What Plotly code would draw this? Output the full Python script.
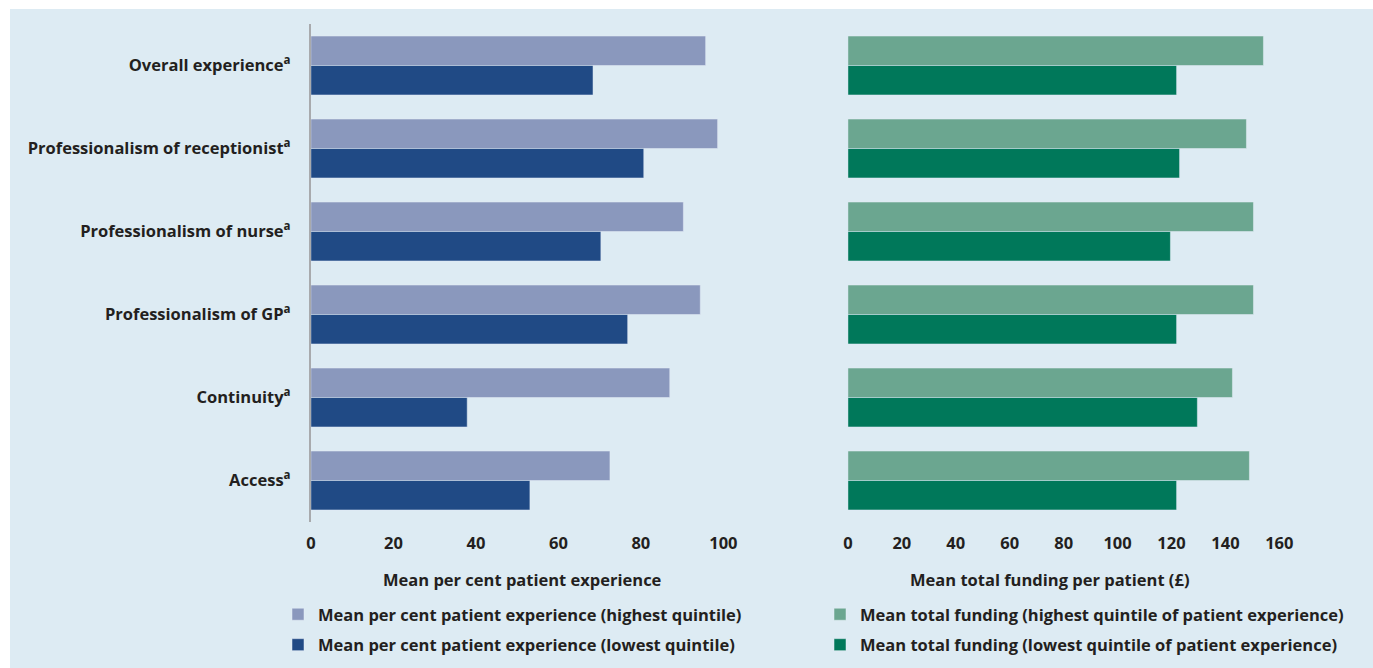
import plotly.graph_objects as go

categories = ["Overall experience", "Professionalism of receptionist", "Professionalism of nurse",
              "Professionalism of GP", "Continuity", "Access"]
exp_high = [95.7, 98.6, 90.3, 94.4, 87.0, 72.5]
exp_low = [68.4, 80.7, 70.3, 76.8, 37.9, 53.1]
fund_high = [154.1, 147.8, 150.4, 150.4, 142.6, 148.9]
fund_low = [121.9, 123.0, 119.6, 121.9, 129.6, 121.9]
left_ticks = [0, 20, 40, 60, 80, 100]
right_ticks = [0, 20, 40, 60, 80, 100, 120, 140, 160]

REF_W = 1373
W, H = 1387, 668
BG = "#ddebf3"
TXT = "#231f20"
FONT = "Open Sans"
FS = 16.5

ylabels = [f"<b>{c}<sup>a</sup></b>" for c in categories]

fig = go.Figure()
fig.add_trace(go.Bar(y=categories, x=exp_high, orientation="h", marker_color="#8a98bd",
                     name="<b>Mean per cent patient experience (highest quintile)</b>",
                     xaxis="x", yaxis="y", legend="legend", legendgroup="a"))
fig.add_trace(go.Bar(y=categories, x=exp_low, orientation="h", marker_color="#204a85",
                     name="<b>Mean per cent patient experience (lowest quintile)</b>",
                     xaxis="x", yaxis="y", legend="legend", legendgroup="b"))
fig.add_trace(go.Bar(y=categories, x=fund_high, orientation="h", marker_color="#6ba690",
                     name="<b>Mean total funding (highest quintile of patient experience)</b>",
                     xaxis="x2", yaxis="y2", legend="legend2", legendgroup="c"))
fig.add_trace(go.Bar(y=categories, x=fund_low, orientation="h", marker_color="#00785a",
                     name="<b>Mean total funding (lowest quintile of patient experience)</b>",
                     xaxis="x2", yaxis="y2", legend="legend2", legendgroup="d"))

ydom = [1 - 522 / H, 1 - 24 / H]
fig.update_layout(
    width=W, height=H, autosize=False,
    margin=dict(l=0, r=0, t=0, b=0),
    paper_bgcolor="white",
    plot_bgcolor="rgba(0,0,0,0)",
    barmode="group", bargap=0.29, bargroupgap=0,
    font=dict(family=FONT, size=FS, color=TXT),
    xaxis=dict(domain=[307 / REF_W, 721 / REF_W], range=[0, 100], tickvals=left_ticks,
               ticktext=[f"<b>{t}</b>" for t in left_ticks], showgrid=False, zeroline=False,
               showline=False, ticks="", ticklabelstandoff=9, tickfont=dict(size=FS)),
    yaxis=dict(domain=ydom, range=[5.5, -0.5], tickvals=categories, ticktext=ylabels,
               showgrid=False, zeroline=False, showline=True, linecolor="#a8aaad", linewidth=2,
               ticks="", ticklabelstandoff=15, tickfont=dict(size=FS)),
    xaxis2=dict(domain=[846 / REF_W, 1279 / REF_W], range=[0, 160], tickvals=right_ticks,
                ticktext=[f"<b>{t}</b>" for t in right_ticks], showgrid=False, zeroline=False,
                showline=False, ticks="", ticklabelstandoff=9, tickfont=dict(size=FS)),
    yaxis2=dict(domain=ydom, range=[5.5, -0.5], anchor="x2", showticklabels=False,
                showgrid=False, zeroline=False, showline=False),
    legend=dict(x=274 / REF_W, y=1 - 597 / H, xanchor="left", yanchor="top",
                bgcolor="rgba(0,0,0,0)", font=dict(size=FS, color=TXT), tracegroupgap=6),
    legend2=dict(x=818 / REF_W, y=1 - 597 / H, xanchor="left", yanchor="top",
                 bgcolor="rgba(0,0,0,0)", font=dict(size=FS, color=TXT), tracegroupgap=6),
    shapes=[dict(type="rect", xref="paper", yref="paper", x0=5 / REF_W, x1=1, y0=0, y1=1 - 9 / H,
                 fillcolor=BG, line=dict(width=0), layer="below")],
    annotations=[
        dict(text="<b>Mean per cent patient experience</b>", x=519 / REF_W, y=1 - 579 / H,
             xref="paper", yref="paper", showarrow=False, xanchor="center", yanchor="middle",
             font=dict(size=FS, color=TXT)),
        dict(text="<b>Mean total funding per patient (£)</b>", x=1048 / REF_W, y=1 - 579 / H,
             xref="paper", yref="paper", showarrow=False, xanchor="center", yanchor="middle",
             font=dict(size=FS, color=TXT)),
    ],
)

fig.write_html(
    "out.html",
    config={"displayModeBar": False, "responsive": False},
    post_script=("document.documentElement.style.overflow='hidden';"
                 "document.body.style.overflow='hidden';"
                 "document.body.style.margin='0';document.body.style.padding='0';"
                 "document.documentElement.style.background="
                 "'linear-gradient(to bottom, white 9px, " + BG + " 9px)';"
                 "document.body.style.background="
                 "'linear-gradient(to bottom, white 9px, " + BG + " 9px)';"),
)
